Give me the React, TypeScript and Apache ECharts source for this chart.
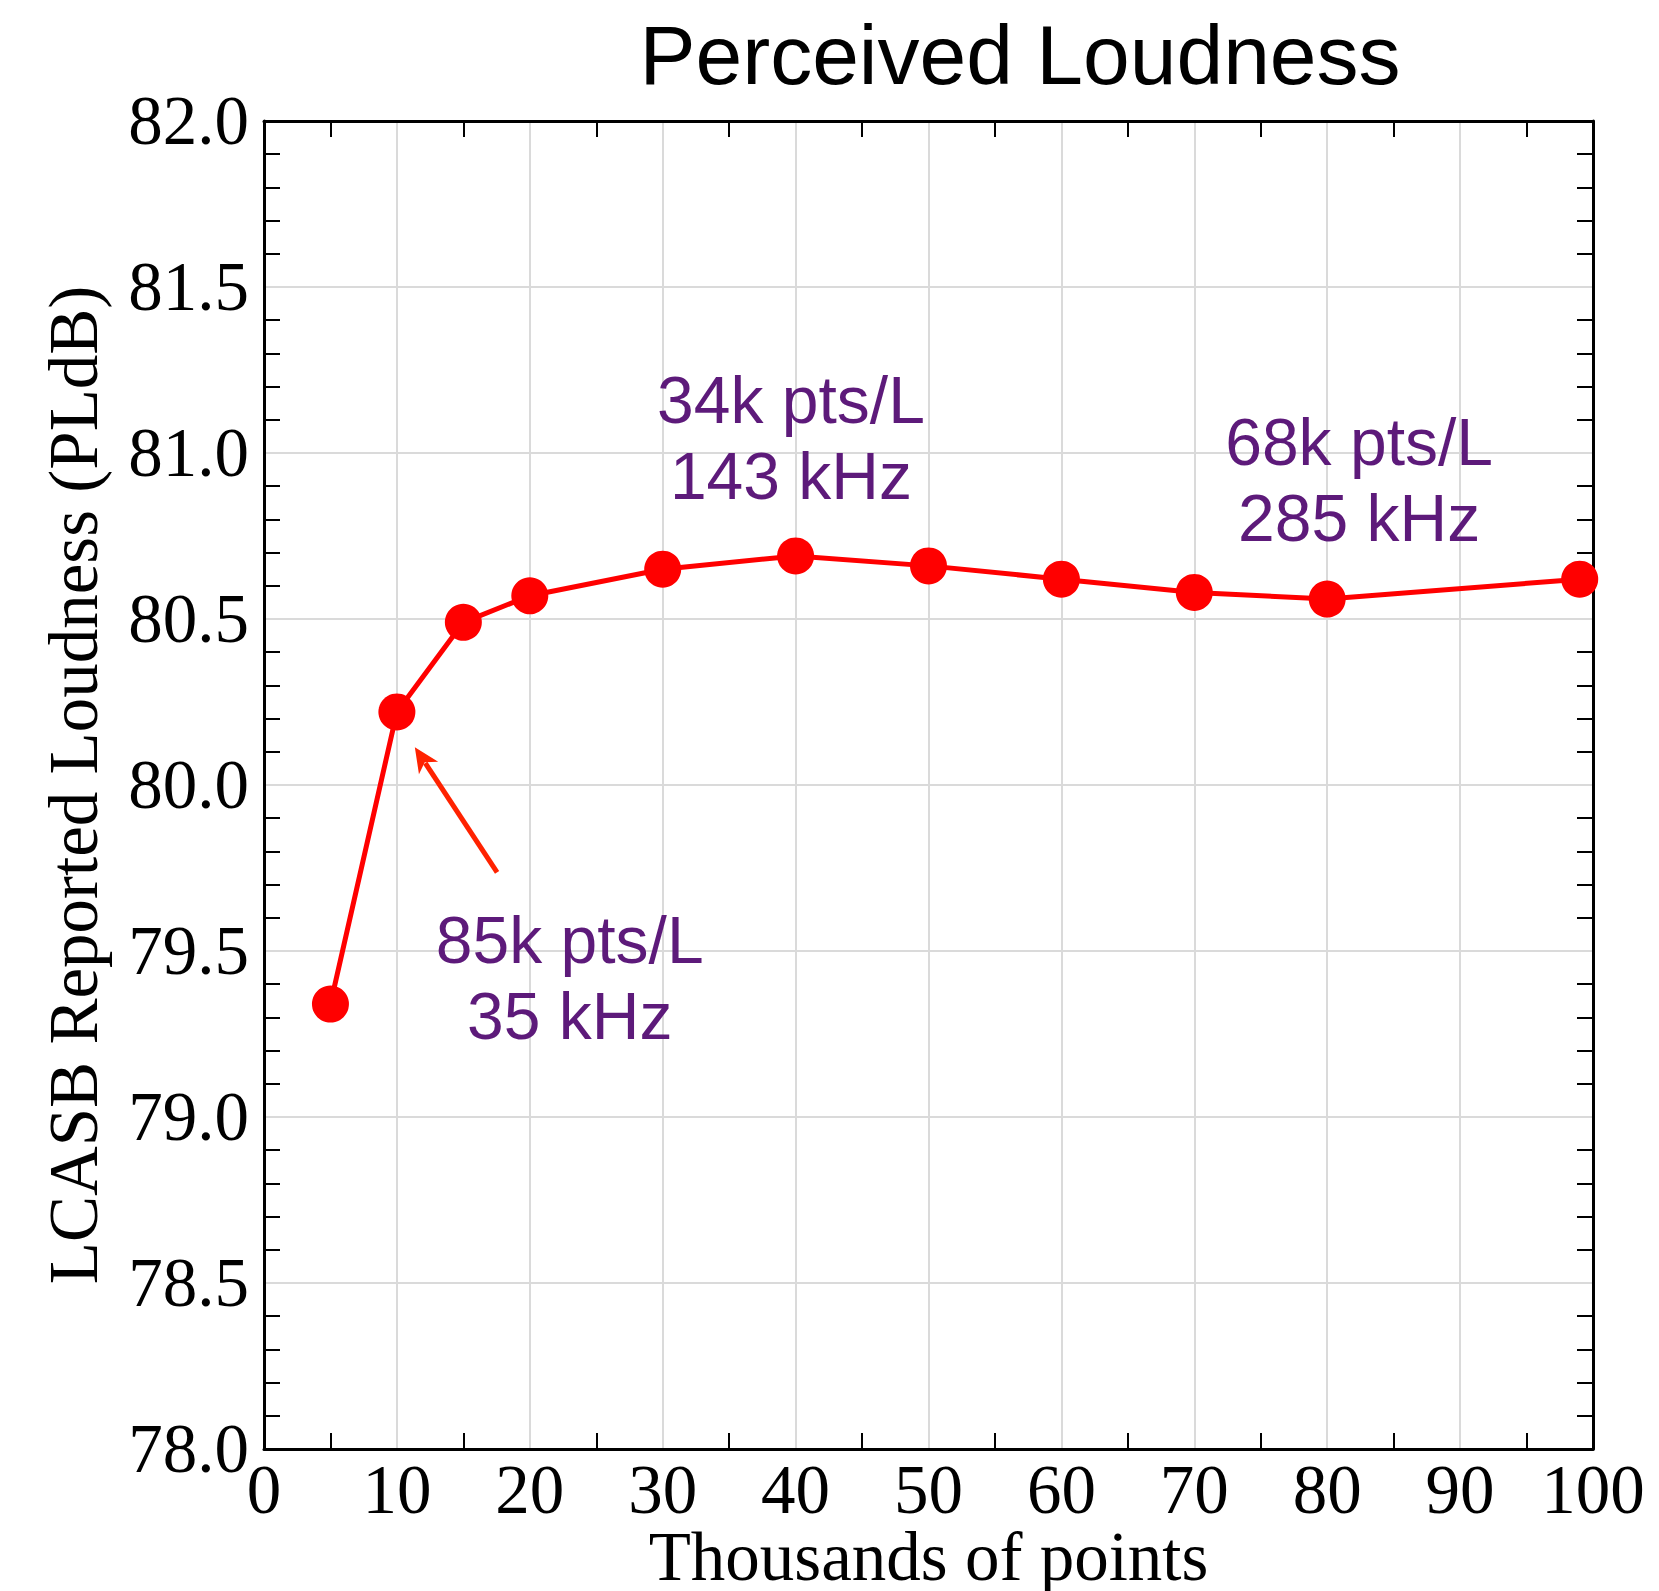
import React, { useEffect, useRef } from "react";
import * as echarts from "echarts";

// ---- data ----
const xValues = [5, 10, 15, 20, 30, 40, 50, 60, 70, 80, 99];
const loudness = [79.34, 80.22, 80.49, 80.57, 80.65, 80.69, 80.66, 80.62, 80.58, 80.56, 80.62];

const xMin = 0;
const xMax = 100;
const xStep = 10;
const yMin = 78;
const yMax = 82;
const yStep = 0.5;

const titleText = "Perceived Loudness";
const xAxisTitle = "Thousands of points";
const yAxisTitle = "LCASB Reported Loudness (PLdB)";

const annotationTexts = ["34k pts/L\n143 kHz", "68k pts/L\n285 kHz", "85k pts/L\n35 kHz"];
const annotationX = [39.65, 82.4, 23.0];
const annotationY = [81.045, 80.92, 79.42];

// arrow: tail and tip, in data coordinates
const arrowFrom = [17.54, 79.737];
const arrowTo = [11.35, 80.114];

const serif = "'Liberation Serif', 'Times New Roman', Times, serif";
const sans = "'Liberation Sans', Helvetica, Arial, sans-serif";

export default function App() {
  const ref = useRef<HTMLDivElement>(null);

  useEffect(() => {
    if (!ref.current) return;
    const chart = echarts.init(ref.current, null, { renderer: "svg" });

    const axisLineStyle = { show: true, onZero: false, lineStyle: { color: "#000", width: 3 } };
    const gridLine = { show: true, lineStyle: { color: "#dadada", width: 2 } };

    const option: any = {
      animation: false,
      backgroundColor: "#ffffff",
      title: {
        text: titleText,
        left: 1015,
        top: 8,
        textAlign: "center",
        textStyle: { fontFamily: sans, fontSize: 84, fontWeight: "normal", color: "#000" },
      },
      grid: {
        left: 264,
        top: 121,
        right: 66,
        bottom: 142,
        containLabel: false,
        outerBoundsMode: "none",
      },
      xAxis: [
        {
          type: "value",
          position: "bottom",
          min: xMin,
          max: xMax,
          interval: xStep,
          axisLine: axisLineStyle,
          axisTick: { show: false, inside: true },
          minorTick: { show: true, splitNumber: 2, length: 16, lineStyle: { color: "#000", width: 2 } },
          minorSplitLine: { show: false },
          splitLine: gridLine,
          axisLabel: {
            fontFamily: serif,
            fontSize: 69,
            lineHeight: 56,
            color: "#000",
            margin: 13,
            formatter: (v: number) => String(v),
          },
          name: xAxisTitle,
          nameLocation: "middle",
          nameGap: 80,
          nameMoveOverlap: false,
          nameTextStyle: { fontFamily: serif, fontSize: 69, lineHeight: 56, color: "#000" },
        },
        {
          type: "value",
          position: "top",
          min: xMin,
          max: xMax,
          interval: xStep,
          axisLine: axisLineStyle,
          axisTick: { show: false, inside: true },
          minorTick: { show: true, splitNumber: 2, length: 16, lineStyle: { color: "#000", width: 2 } },
          splitLine: { show: false },
          axisLabel: { show: false },
        },
      ],
      yAxis: [
        {
          type: "value",
          position: "left",
          min: yMin,
          max: yMax,
          interval: yStep,
          axisLine: axisLineStyle,
          axisTick: { show: false, inside: true },
          minorTick: { show: true, splitNumber: 5, length: 16, lineStyle: { color: "#000", width: 2 } },
          minorSplitLine: { show: false },
          splitLine: gridLine,
          axisLabel: {
            fontFamily: serif,
            fontSize: 69,
            color: "#000",
            margin: 15,
            formatter: (v: number) => v.toFixed(1),
          },
          name: yAxisTitle,
          nameLocation: "middle",
          nameGap: 156,
          nameRotate: 90,
          nameMoveOverlap: false,
          nameTextStyle: { fontFamily: serif, fontSize: 69, color: "#000" },
        },
        {
          type: "value",
          position: "right",
          min: yMin,
          max: yMax,
          interval: yStep,
          axisLine: axisLineStyle,
          axisTick: { show: false, inside: true },
          minorTick: { show: true, splitNumber: 5, length: 16, lineStyle: { color: "#000", width: 2 } },
          splitLine: { show: false },
          axisLabel: { show: false },
        },
      ],
      series: [
        {
          type: "line",
          xAxisIndex: 0,
          yAxisIndex: 0,
          data: xValues.map((x, i) => [x, loudness[i]]),
          symbol: "circle",
          symbolSize: 37,
          showAllSymbol: true,
          clip: false,
          z: 3,
          itemStyle: { color: "#ff0000" },
          lineStyle: { color: "#ff0000", width: 5 },
        },
      ],
    };

    chart.setOption(option);

    const toPx = (p: number[]) =>
      chart.convertToPixel({ xAxisIndex: 0, yAxisIndex: 0 }, p) as number[];

    const graphics: any[] = annotationTexts.map((t, i) => {
      const p = toPx([annotationX[i], annotationY[i]]);
      return {
        type: "text",
        x: p[0],
        y: p[1],
        z: 10,
        style: {
          text: t,
          fill: "#5d1a7a",
          fontFamily: sans,
          fontSize: 66,
          lineHeight: 76,
          align: "center",
          verticalAlign: "middle",
          textAlign: "center",
          textVerticalAlign: "middle",
        },
      };
    });

    // arrow from tail to tip
    const tail = toPx(arrowFrom);
    const tip = toPx(arrowTo);
    const dx = tip[0] - tail[0];
    const dy = tip[1] - tail[1];
    const len = Math.sqrt(dx * dx + dy * dy);
    const ux = dx / len;
    const uy = dy / len;
    const nx = -uy;
    const ny = ux;
    const headLen = 25;
    const headHalf = 11.5;
    const notch = 18;
    const base = [tip[0] - ux * headLen, tip[1] - uy * headLen];
    const notchPt = [tip[0] - ux * notch, tip[1] - uy * notch];
    const arrowColor = "#ff2200";
    graphics.push({
      type: "line",
      z: 9,
      shape: { x1: tail[0], y1: tail[1], x2: notchPt[0] - ux * 1, y2: notchPt[1] - uy * 1 },
      style: { stroke: arrowColor, lineWidth: 5 },
    });
    graphics.push({
      type: "polygon",
      z: 9,
      shape: {
        points: [
          tip,
          [base[0] + nx * headHalf, base[1] + ny * headHalf],
          notchPt,
          [base[0] - nx * headHalf, base[1] - ny * headHalf],
        ],
      },
      style: { fill: arrowColor },
    });

    chart.setOption({ graphic: graphics });

    return () => {
      chart.dispose();
    };
  }, []);

  return (
    <div
      ref={ref}
      style={{ position: "absolute", left: 0, top: 0, width: 1659, height: 1591, background: "#fff" }}
    />
  );
}
